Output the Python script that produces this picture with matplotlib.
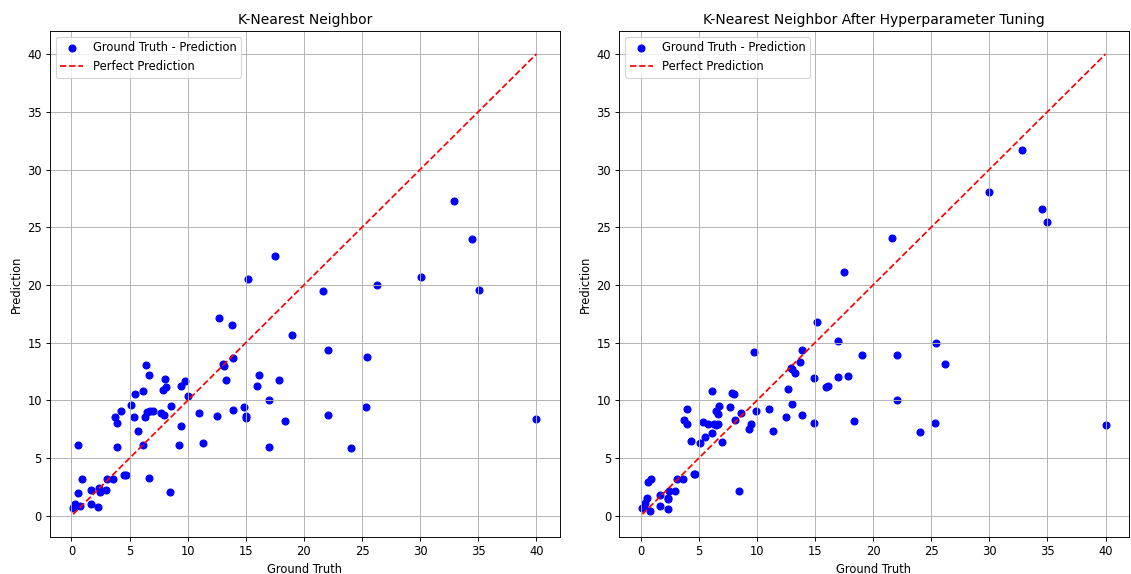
"""KNN ground truth vs prediction, before and after hyperparameter tuning."""

import matplotlib
matplotlib.use("Agg")
import matplotlib.pyplot as plt

# values
knn_truth = [
    17.5, 15.2, 12.7, 13.8, 19.0, 6.4, 13.0, 13.1, 13.9, 6.7,
    16.1, 8.05, 8.15, 7.85, 13.3, 15.95, 17.85, 9.4, 9.75, 5.5,
    6.15, 10.0, 5.1, 8.6, 11.0, 12.5, 13.9, 14.85, 15.0, 15.0,
    17.0, 18.4, 3.75, 4.3, 3.95, 5.35, 6.3, 6.5, 6.75, 7.0,
    7.7, 7.95, 5.75, 9.45, 0.55, 3.95, 6.15, 9.25, 11.35, 17.0,
    0.9, 3.1, 3.6, 4.55, 4.7, 6.7, 8.5, 0.55, 1.65, 2.35,
    2.5, 2.95, 0.2, 0.35, 0.15, 0.75, 1.7, 2.3, 32.9, 34.5,
    30.05, 26.25, 21.65, 35.1, 22.05, 25.45, 22.05, 25.35, 24.05, 40.0,
]
knn_pred = [
    22.5, 20.5, 17.1, 16.55, 15.7, 13.1, 13.2, 13.0, 13.65, 12.2,
    12.2, 11.85, 11.2, 10.9, 11.8, 11.25, 11.8, 11.25, 11.65, 10.55,
    10.8, 10.35, 9.6, 9.55, 8.9, 8.7, 9.15, 9.4, 8.7, 8.5,
    10.0, 8.2, 8.6, 9.05, 8.05, 8.6, 8.6, 9.0, 9.05, 9.05,
    8.95, 8.75, 7.35, 7.8, 6.15, 6.0, 6.15, 6.15, 6.3, 6.0,
    3.2, 3.2, 3.2, 3.55, 3.55, 3.3, 2.05, 2.0, 2.25, 2.45,
    2.05, 2.25, 0.9, 1.0, 0.7, 0.85, 1.0, 0.8, 27.3, 24.0,
    20.7, 20.0, 19.45, 19.6, 14.35, 13.8, 8.75, 9.4, 5.85, 8.4,
]

tuned_truth = [
    15.2, 16.95, 19.05, 9.75, 13.9, 13.75, 12.95, 13.0, 13.3, 14.95,
    17.0, 17.85, 15.95, 16.15, 12.65, 6.15, 7.85, 8.05, 3.95, 6.75,
    6.65, 6.45, 7.7, 8.65, 8.15, 9.95, 11.05, 13.0, 12.5, 13.9,
    14.95, 18.35, 3.75, 3.95, 5.35, 5.8, 6.3, 6.7, 6.45, 9.5,
    9.3, 11.35, 6.15, 5.5, 5.1, 4.3, 7.0, 8.5, 0.9, 0.6,
    3.1, 3.65, 4.6, 4.7, 2.45, 3.0, 2.35, 2.4, 1.65, 0.55,
    0.35, 0.3, 0.15, 0.8, 1.7, 2.35, 32.85, 30.0, 34.5, 35.0,
    21.65, 17.5, 25.45, 22.05, 26.2, 22.05, 25.3, 24.05, 40.0,
]
tuned_pred = [
    16.8, 15.15, 13.95, 14.2, 14.35, 13.35, 12.85, 12.7, 12.4, 11.95,
    12.05, 12.1, 11.2, 11.25, 11.0, 10.8, 10.65, 10.6, 9.25, 9.55,
    8.85, 9.05, 9.4, 8.95, 8.3, 9.05, 9.25, 9.7, 8.6, 8.75,
    8.05, 8.2, 8.3, 8.0, 8.15, 8.0, 8.0, 8.0, 7.85, 8.0,
    7.55, 7.35, 7.15, 6.85, 6.35, 6.5, 6.4, 2.2, 3.2, 2.95,
    3.2, 3.2, 3.6, 3.65, 2.15, 2.15, 1.55, 1.5, 1.8, 1.6,
    1.1, 0.8, 0.7, 0.45, 0.85, 0.6, 31.7, 28.05, 26.55, 25.45,
    24.1, 21.15, 15.0, 13.95, 13.2, 10.05, 8.05, 7.25, 7.85,
]

panels = [
    ("K-Nearest Neighbor", knn_truth, knn_pred),
    ("K-Nearest Neighbor After Hyperparameter Tuning", tuned_truth, tuned_pred),
]

# the reference looks like a default-styled figure shrunk to ~83%
DPI = 83
fig, axes = plt.subplots(1, 2, figsize=(1131 / DPI, 574 / DPI), dpi=DPI)
fig.subplots_adjust(left=0.0442, right=0.998, bottom=0.064, top=0.946, wspace=0.117)

for ax, (title, truth, pred) in zip(axes, panels):
    ax.scatter(truth, pred, color="blue", label="Ground Truth - Prediction")
    # diagonal spans the range of the ground truth
    lo, hi = min(truth), max(truth)
    ax.plot([lo, hi], [lo, hi], "r--", label="Perfect Prediction")
    ax.set_title(title)
    ax.set_xlabel("Ground Truth")
    ax.set_ylabel("Prediction")
    ax.legend(loc="upper left")
    ax.grid(True)

fig.savefig("out.png", dpi=DPI)
